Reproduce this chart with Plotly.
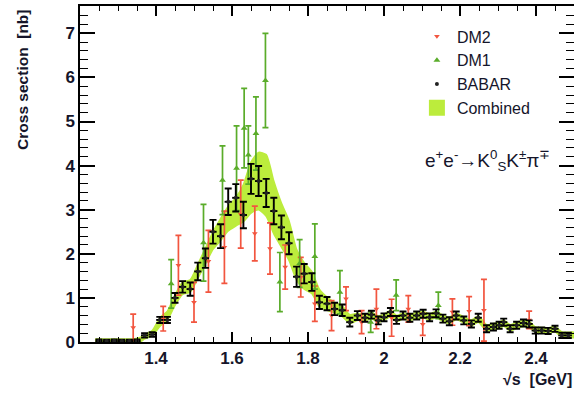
import plotly.graph_objects as go

# ---------------- data ----------------
babar_x = [1.25, 1.27, 1.29, 1.31, 1.33, 1.35, 1.37, 1.39, 1.41, 1.43, 1.45, 1.47, 1.49,
           1.51, 1.53, 1.55, 1.57, 1.59, 1.61, 1.63, 1.65, 1.67, 1.69, 1.71, 1.73, 1.75,
           1.77, 1.79, 1.81, 1.83, 1.85, 1.87, 1.89, 1.91, 1.93,
           1.95, 1.967, 1.985, 2.0, 2.017, 2.033, 2.05, 2.068, 2.086, 2.103, 2.12, 2.137,
           2.155, 2.172, 2.19, 2.21, 2.23, 2.248, 2.27, 2.288, 2.303, 2.315, 2.332, 2.349,
           2.367, 2.382, 2.398, 2.415, 2.432, 2.45, 2.468, 2.485]
babar_y = [0.03, 0.02, 0.03, 0.02, 0.02, 0.03, 0.15, 0.17, 0.50, 0.50, 1.00, 1.25, 1.20,
           1.60, 1.90, 2.50, 2.40, 3.18, 3.27, 2.88, 3.70, 3.65, 3.38, 2.97, 2.60, 2.24,
           1.48, 1.55, 1.36, 0.90, 0.87, 0.75, 0.72, 0.45, 0.60,
           0.55, 0.62, 0.49, 0.56, 0.68, 0.50, 0.60, 0.55, 0.60, 0.64, 0.56, 0.65,
           0.53, 0.47, 0.60, 0.49, 0.41, 0.55, 0.30, 0.34, 0.38, 0.45, 0.30, 0.38,
           0.43, 0.41, 0.26, 0.26, 0.25, 0.30, 0.15, 0.15]
babar_err = [0.03, 0.03, 0.03, 0.03, 0.03, 0.03, 0.05, 0.05, 0.07, 0.07, 0.11, 0.13, 0.15,
             0.20, 0.22, 0.27, 0.27, 0.30, 0.31, 0.30, 0.34, 0.34, 0.32, 0.30, 0.27, 0.25,
             0.23, 0.22, 0.20, 0.15, 0.15, 0.14, 0.13, 0.10, 0.10,
             0.09, 0.09, 0.09, 0.09, 0.09, 0.09, 0.09, 0.09, 0.09, 0.09, 0.09, 0.09,
             0.09, 0.09, 0.09, 0.09, 0.08, 0.09, 0.08, 0.08, 0.08, 0.08, 0.08, 0.08,
             0.08, 0.08, 0.07, 0.07, 0.07, 0.07, 0.06, 0.06]

dm1_x = [1.44, 1.525, 1.575, 1.612, 1.632, 1.643, 1.663, 1.688, 1.726, 1.778, 1.818,
         1.884, 1.965, 2.032, 2.143]
dm1_y = [1.32, 2.25, 3.67, 3.94, 4.85, 4.24, 4.73, 5.93, 1.36, 1.78, 1.94, 1.13, 0.45,
         1.06, 0.83]
dm1_err = [0.55, 0.87, 0.78, 0.96, 0.90, 0.66, 0.83, 1.07, 0.67, 0.54, 0.74, 0.49, 0.23,
           0.35, 0.30]

dm2_x = [1.34, 1.419, 1.459, 1.50, 1.538, 1.58, 1.623, 1.66, 1.70, 1.74, 1.781, 1.818,
         1.862, 1.90, 1.941, 1.98, 2.02, 2.064, 2.102, 2.18, 2.224, 2.263, 2.382]
dm2_y = [0.33, 0.53, 1.74, 0.90, 1.83, 2.15, 2.90, 2.46, 2.12, 1.70, 1.47, 0.87, 0.60,
         0.98, 0.45, 0.75, 0.55, 0.75, 0.40, 0.68, 0.70, 0.72, 0.50]
dm2_err = [0.30, 0.28, 0.68, 0.45, 0.70, 0.82, 0.77, 0.62, 0.58, 0.50, 0.45, 0.40, 0.34,
           0.27, 0.26, 0.45, 0.42, 0.30, 0.25, 0.30, 0.33, 0.70, 0.20]

band_x = [1.24, 1.26, 1.28, 1.30, 1.32, 1.34, 1.36, 1.37, 1.39, 1.41, 1.43, 1.45, 1.47,
          1.49, 1.51, 1.53, 1.55, 1.57, 1.59, 1.61, 1.63, 1.65, 1.67, 1.69, 1.71, 1.73,
          1.75, 1.77, 1.79, 1.81, 1.83, 1.85, 1.87, 1.89, 1.91, 1.93,
          1.95, 1.967, 1.985, 2.0, 2.017, 2.033, 2.05, 2.068, 2.086, 2.103, 2.12, 2.137,
          2.155, 2.172, 2.19, 2.21, 2.23, 2.248, 2.27, 2.288, 2.303, 2.315, 2.332, 2.349,
          2.367, 2.382, 2.398, 2.415, 2.432, 2.45, 2.468, 2.485, 2.5]
band_mid = [0.03, 0.03, 0.03, 0.03, 0.03, 0.03, 0.06, 0.12, 0.20, 0.45, 0.60, 0.95, 1.22,
            1.27, 1.60, 1.95, 2.30, 2.55, 2.80, 2.95, 3.15, 3.50, 3.65, 3.55, 3.05, 2.65,
            2.30, 1.75, 1.50, 1.35, 1.00, 0.87, 0.78, 0.70, 0.52, 0.57,
            0.55, 0.60, 0.52, 0.56, 0.64, 0.53, 0.59, 0.56, 0.60, 0.62, 0.57, 0.62,
            0.54, 0.49, 0.58, 0.50, 0.43, 0.52, 0.32, 0.35, 0.38, 0.43, 0.32, 0.38,
            0.42, 0.40, 0.28, 0.27, 0.26, 0.29, 0.17, 0.16, 0.16]
band_hw = [0.04, 0.04, 0.04, 0.04, 0.04, 0.04, 0.05, 0.05, 0.06, 0.10, 0.10, 0.12, 0.14,
           0.14, 0.16, 0.18, 0.20, 0.25, 0.28, 0.32, 0.42, 0.58, 0.65, 0.70, 0.60, 0.50,
           0.45, 0.35, 0.30, 0.25, 0.20, 0.15, 0.12, 0.12, 0.10, 0.08,
           0.07, 0.07, 0.07, 0.07, 0.07, 0.07, 0.07, 0.07, 0.07, 0.07, 0.07, 0.07,
           0.07, 0.07, 0.07, 0.07, 0.07, 0.07, 0.07, 0.07, 0.07, 0.07, 0.07, 0.07,
           0.07, 0.07, 0.06, 0.06, 0.06, 0.06, 0.06, 0.06, 0.06]

x_ticks = [1.4, 1.6, 1.8, 2.0, 2.2, 2.4]
x_ticktext = ["1.4", "1.6", "1.8", "2", "2.2", "2.4"]
y_ticks = [0, 1, 2, 3, 4, 5, 6, 7]

# ---------------- style ----------------
GREEN_BAND = "#bcec3c"
DM1_COL = "#5aac2a"
DM2_COL = "#f2553f"
TXT = "#15152a"
FONT = "Liberation Sans, Arial, Helvetica, sans-serif"

band_upper = [m + h for m, h in zip(band_mid, band_hw)]
band_lower = [m - h for m, h in zip(band_mid, band_hw)]

fig = go.Figure()

fig.add_trace(go.Scatter(
    x=band_x + band_x[::-1], y=band_upper + band_lower[::-1],
    fill="toself", fillcolor=GREEN_BAND, mode="lines",
    line=dict(color=GREEN_BAND, width=1.5, shape="spline", smoothing=0.6),
    name="Combined band", showlegend=False, hoverinfo="skip"))

fig.add_trace(go.Scatter(
    x=dm2_x, y=dm2_y, mode="markers", name="DM2", legendrank=1,
    marker=dict(symbol="triangle-down", size=5, color=DM2_COL),
    error_y=dict(type="data", array=dm2_err, color=DM2_COL, thickness=1.7, width=3)))

fig.add_trace(go.Scatter(
    x=dm1_x, y=dm1_y, mode="markers", name="DM1", legendrank=2,
    marker=dict(symbol="triangle-up", size=6, color=DM1_COL),
    error_y=dict(type="data", array=dm1_err, color=DM1_COL, thickness=1.7, width=3)))

fig.add_trace(go.Scatter(
    x=babar_x, y=babar_y, mode="markers", name="BABAR", legendrank=3,
    marker=dict(symbol="circle", size=4, color="#222222"),
    error_y=dict(type="data", array=babar_err, color="black", thickness=1.9, width=3.5),
    error_x=dict(type="constant", value=0.0095, color="black", thickness=1.9, width=0)))

# legend entry for the combined band (square swatch)
fig.add_trace(go.Scatter(
    x=[None], y=[None], mode="markers", name="Combined", legendrank=4,
    marker=dict(symbol="square", size=16, color=GREEN_BAND)))

axis_common = dict(showline=True, linecolor="black", linewidth=1.5, mirror="ticks",
                   ticks="inside", showgrid=False, zeroline=False,
                   tickfont=dict(family=FONT, size=17, color=TXT, weight="bold"))

fig.update_xaxes(range=[1.2, 2.5], tickvals=x_ticks, ticktext=x_ticktext,
                 ticklen=10, tickwidth=1.5, tickcolor="black",
                 minor=dict(dtick=0.05, tick0=1.2, ticks="inside", ticklen=5,
                            tickwidth=1.2, tickcolor="black"),
                 **axis_common)
fig.update_yaxes(range=[0, 7.62], tickvals=y_ticks,
                 ticklen=15, tickwidth=1.5, tickcolor="black",
                 minor=dict(dtick=0.2, tick0=0, ticks="inside", ticklen=8,
                            tickwidth=1.2, tickcolor="black"),
                 **axis_common)

fig.add_annotation(text="Cross section  [nb]", textangle=-90, xref="paper", yref="paper",
                   x=-0.117, y=0.995, xanchor="center", yanchor="top", showarrow=False,
                   font=dict(family=FONT, size=15.5, color=TXT, weight="bold"))
fig.add_annotation(text="√s  [GeV]", xref="paper", yref="paper",
                   x=1.0, y=-0.113, xanchor="right", yanchor="middle", showarrow=False,
                   font=dict(family=FONT, size=16, color=TXT, weight="bold"))
fig.add_annotation(text="e<sup>+</sup>e<sup>-</sup>→K<sup>0</sup><sub>S</sub>K<sup>±</sup>π<sup>∓</sup>",
                   xref="paper", yref="paper", x=0.694, y=0.54, xanchor="left",
                   yanchor="middle", showarrow=False,
                   font=dict(family=FONT, size=19, color=TXT))

fig.update_layout(
    width=574, height=397,
    margin=dict(l=80, r=0, t=6, b=55, autoexpand=False),
    paper_bgcolor="white", plot_bgcolor="white",
    showlegend=True,
    legend=dict(x=0.682, y=0.96, xanchor="left", yanchor="top",
                bgcolor="rgba(0,0,0,0)",
                font=dict(family=FONT, size=16, color=TXT), tracegroupgap=0,
                itemwidth=30),
)

fig.write_html("out.html")
